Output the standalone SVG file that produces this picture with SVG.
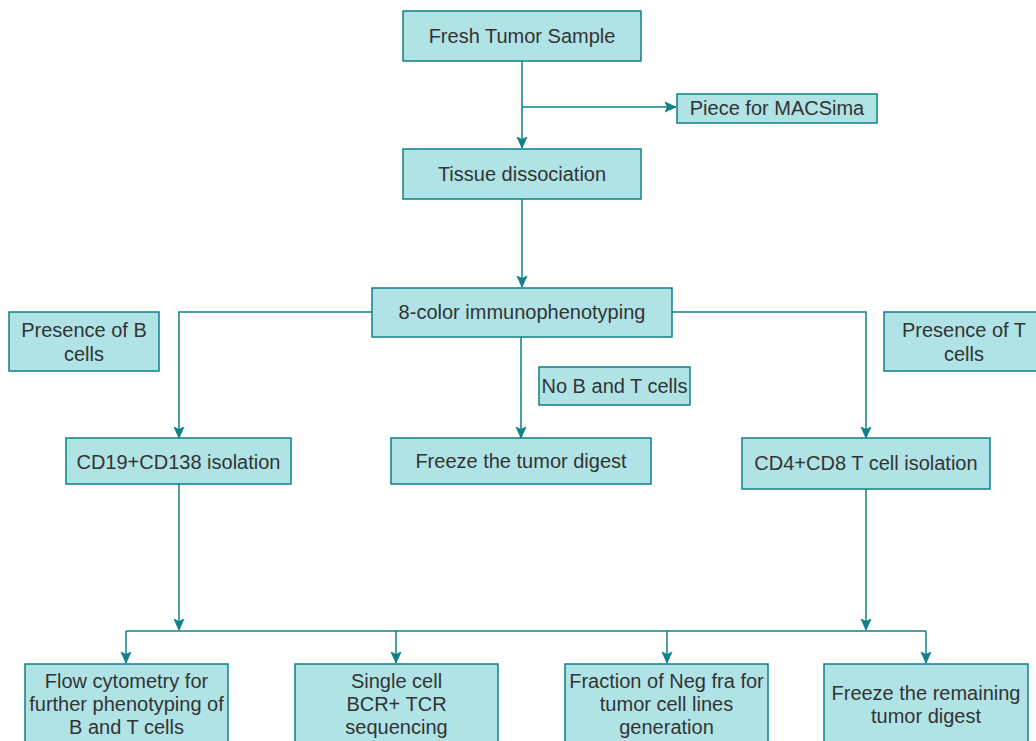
<svg xmlns="http://www.w3.org/2000/svg" width="1036" height="741" viewBox="0 0 1036 741">
<style>
.box{fill:#b0e3e6;stroke:#0e8088;stroke-width:1.5}
.t{font-family:"Liberation Sans",Arial,sans-serif;font-size:20px;fill:#333333;text-anchor:middle}
.c{fill:none;stroke:#0e8088;stroke-width:1.5}
</style>
<defs>
<marker id="ar" markerUnits="userSpaceOnUse" markerWidth="12" markerHeight="12" viewBox="0 0 12 12" refX="11" refY="6" orient="auto">
<path d="M0,1 L11,6 L0,11 L2.5,6 z" fill="#0e8088" stroke="#0e8088" stroke-width="0.8"/>
</marker>
</defs>
<rect width="1036" height="741" fill="#ffffff"/>
<g id="connectors">
<path class="c" d="M522,61 V148" marker-end="url(#ar)"/>
<path class="c" d="M522,107 H676" marker-end="url(#ar)"/>
<path class="c" d="M522,199 V287" marker-end="url(#ar)"/>
<path class="c" d="M372,312 H179 V438" marker-end="url(#ar)"/>
<path class="c" d="M672,312 H866 V438" marker-end="url(#ar)"/>
<path class="c" d="M521,337 V438" marker-end="url(#ar)"/>
<path class="c" d="M179,484 V630" marker-end="url(#ar)"/>
<path class="c" d="M866,489 V630" marker-end="url(#ar)"/>
<path class="c" d="M126,631 H926"/>
<path class="c" d="M126,631 V663" marker-end="url(#ar)"/>
<path class="c" d="M396,631 V663" marker-end="url(#ar)"/>
<path class="c" d="M667,631 V663" marker-end="url(#ar)"/>
<path class="c" d="M926,631 V663" marker-end="url(#ar)"/>
</g>
<g id="fresh"><rect class="box" x="403" y="11" width="238" height="50"/><text class="t" x="522" y="43">Fresh Tumor Sample</text></g>
<g id="macsima"><rect class="box" x="677" y="94" width="200" height="29"/><text class="t" x="777" y="115">Piece for MACSima</text></g>
<g id="tissue"><rect class="box" x="403" y="149" width="238" height="50"/><text class="t" x="522" y="181">Tissue dissociation</text></g>
<g id="immuno"><rect class="box" x="372" y="288" width="300" height="49"/><text class="t" x="522" y="319">8-color immunophenotyping</text></g>
<g id="presB"><rect class="box" x="9" y="312" width="150" height="59"/><text class="t" x="84" y="337">Presence of B</text><text class="t" x="84" y="361">cells</text></g>
<g id="presT"><rect class="box" x="884" y="312" width="160" height="59"/><text class="t" x="964" y="337">Presence of T</text><text class="t" x="964" y="361">cells</text></g>
<g id="noBT"><rect class="box" x="539" y="367" width="151" height="38"/><text class="t" x="614.5" y="393">No B and T cells</text></g>
<g id="cd19"><rect class="box" x="66" y="438" width="225" height="46"/><text class="t" x="178.5" y="469">CD19+CD138 isolation</text></g>
<g id="freezeDigest"><rect class="box" x="391" y="438" width="260" height="46"/><text class="t" x="521" y="468">Freeze the tumor digest</text></g>
<g id="cd4"><rect class="box" x="742" y="438" width="248" height="51"/><text class="t" x="866" y="470">CD4+CD8 T cell isolation</text></g>
<g id="flow"><rect class="box" x="25" y="664" width="203" height="90"/><text class="t" x="126.5" y="688">Flow cytometry for</text><text class="t" x="126.5" y="711">further phenotyping of</text><text class="t" x="126.5" y="734">B and T cells</text></g>
<g id="single"><rect class="box" x="295" y="664" width="203" height="90"/><text class="t" x="396.5" y="688">Single cell</text><text class="t" x="396.5" y="711">BCR+ TCR</text><text class="t" x="396.5" y="734">sequencing</text></g>
<g id="fraction"><rect class="box" x="565" y="664" width="203" height="90"/><text class="t" x="666.5" y="688">Fraction of Neg fra for</text><text class="t" x="666.5" y="711">tumor cell lines</text><text class="t" x="666.5" y="734">generation</text></g>
<g id="freezeRemain"><rect class="box" x="824" y="664" width="204" height="90"/><text class="t" x="926" y="700">Freeze the remaining</text><text class="t" x="926" y="723">tumor digest</text></g>
</svg>
